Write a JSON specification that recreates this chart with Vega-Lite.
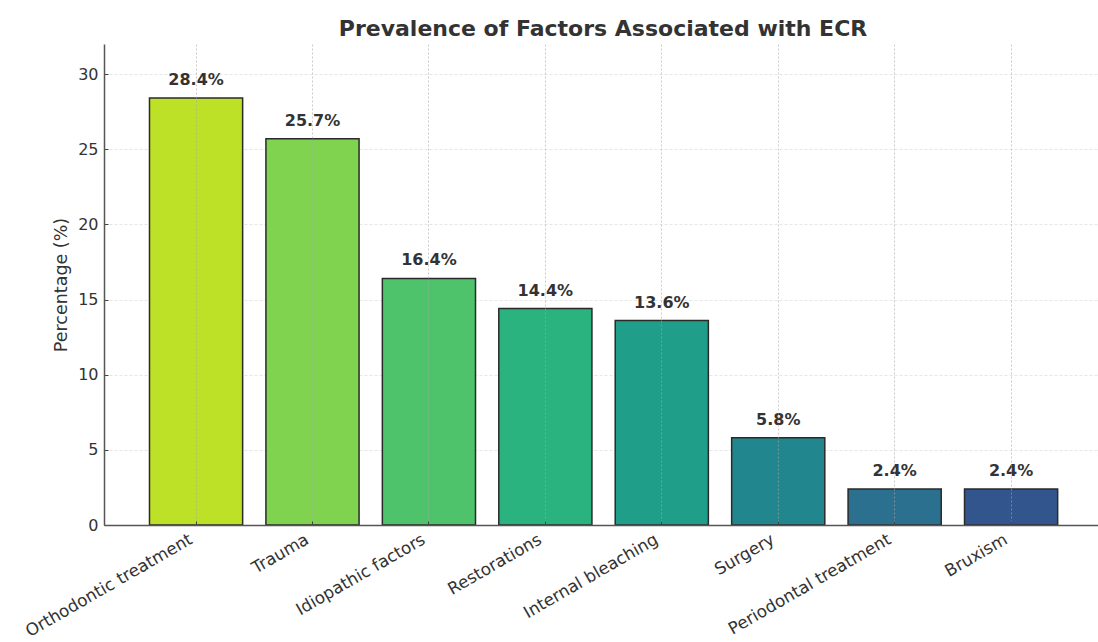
{
  "$schema": "https://vega.github.io/schema/vega-lite/v6.json",
  "width": 994,
  "height": 481,
  "autosize": {"type": "none"},
  "padding": {"left": 104, "top": 44, "right": 0, "bottom": 117},
  "background": "white",
  "title": {
    "text": "Prevalence of Factors Associated with ECR",
    "font": "DejaVu Sans",
    "fontSize": 22,
    "fontWeight": "bold",
    "color": "#333333",
    "offset": 3,
    "dx": 2
  },
  "config": {
    "view": {"stroke": null},
    "axis": {
      "labelFont": "DejaVu Sans",
      "labelColor": "#333333",
      "titleFont": "DejaVu Sans",
      "titleColor": "#333333",
      "domainColor": "#555555",
      "domainWidth": 1.5,
      "tickColor": "#444444",
      "tickWidth": 1,
      "tickSize": -4
    }
  },
  "data": {
    "values": [
      {"factor": "Orthodontic treatment", "pct": 28.4},
      {"factor": "Trauma", "pct": 25.7},
      {"factor": "Idiopathic factors", "pct": 16.4},
      {"factor": "Restorations", "pct": 14.4},
      {"factor": "Internal bleaching", "pct": 13.6},
      {"factor": "Surgery", "pct": 5.8},
      {"factor": "Periodontal treatment", "pct": 2.4},
      {"factor": "Bruxism", "pct": 2.4}
    ]
  },
  "transform": [
    {"calculate": "format(datum.pct, '.1f') + '%'", "as": "label"}
  ],
  "encoding": {
    "x": {
      "field": "factor",
      "type": "nominal",
      "sort": null,
      "scale": {"paddingInner": 0.2, "paddingOuter": 0.3686, "align": 0.53},
      "axis": {
        "title": null,
        "labelAngle": -30,
        "labelAlign": "right",
        "labelBaseline": "top",
        "labelFontSize": 16.8,
        "labelLimit": 0,
        "labelPadding": 10,
        "labelOffset": -9,
        "bandPosition": 0.5,
        "grid": true,
        "gridColor": "#a8a8a8",
        "gridOpacity": 0.6,
        "gridDash": [2, 2],
        "gridWidth": 1,
        "zindex": 1
      }
    },
    "y": {
      "field": "pct",
      "type": "quantitative",
      "scale": {"domain": [0, 32], "nice": false},
      "axis": {
        "title": "Percentage (%)",
        "titleFontSize": 17.5,
        "titleFontWeight": "normal",
        "titlePadding": 7,
        "values": [0, 5, 10, 15, 20, 25, 30],
        "labelFontSize": 16,
        "labelPadding": 10,
        "grid": true,
        "gridColor": "#e6e6e6",
        "gridDash": [3, 2],
        "gridWidth": 1,
        "zindex": 0
      }
    }
  },
  "layer": [
    {
      "mark": {"type": "bar", "stroke": "#2a2a2a", "strokeWidth": 1.5},
      "encoding": {
        "color": {
          "field": "factor",
          "type": "nominal",
          "sort": null,
          "scale": {
            "range": ["#bde126", "#7fd34e", "#4ec36b", "#2ab27f", "#1f9e89", "#22868e", "#2b708e", "#31558c"]
          },
          "legend": null
        }
      }
    },
    {
      "mark": {
        "type": "text",
        "baseline": "bottom",
        "dy": -10,
        "font": "DejaVu Sans",
        "fontSize": 16,
        "fontWeight": "bold",
        "color": "#333333"
      },
      "encoding": {"text": {"field": "label"}}
    }
  ]
}
